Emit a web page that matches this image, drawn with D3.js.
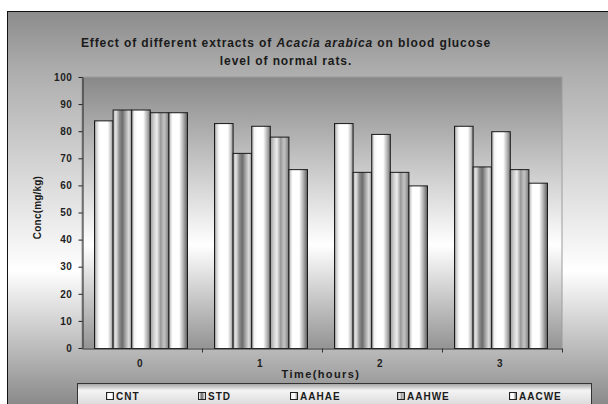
<!DOCTYPE html>
<html>
<head>
<meta charset="utf-8">
<script src="https://cdn.jsdelivr.net/npm/d3@7"></script>
<style>
  html, body { margin: 0; padding: 0; background: #fff; }
  svg { display: block; font-family: "Liberation Sans", Arial, sans-serif; }
</style>
</head>
<body>
<svg id="chart"></svg>
<script>
// data
const times = ["0", "1", "2", "3"];
const series = ["CNT", "STD", "AAHAE", "AAHWE", "AACWE"];
const CNT   = [84, 83, 83, 82];
const STD   = [88, 72, 65, 67];
const AAHAE = [88, 82, 79, 80];
const AAHWE = [87, 78, 65, 66];
const AACWE = [87, 66, 60, 61];
const yTicks = [0, 10, 20, 30, 40, 50, 60, 70, 80, 90, 100];

const values = { CNT, STD, AAHAE, AAHWE, AACWE };

const width = 608, height = 404;
const plot = { left: 82, right: 562, top: 77, bottom: 348 };

const svg = d3.select("#chart")
    .attr("width", width)
    .attr("height", height);

const defs = svg.append("defs");

// vertical background gradients
function vGrad(id, y1, y2, stops) {
  const g = defs.append("linearGradient")
      .attr("id", id)
      .attr("gradientUnits", "userSpaceOnUse")
      .attr("x1", 0).attr("x2", 0).attr("y1", y1).attr("y2", y2);
  stops.forEach(s => g.append("stop").attr("offset", s[0]).attr("stop-color", s[1]));
}
vGrad("bgOuter", 12, 404, [[0, "#8c8c8c"], [0.15, "#adadad"], [0.66, "#ffffff"], [1, "#8a8a8a"]]);
vGrad("bgPlot", plot.top, plot.bottom, [[0, "#888888"], [0.62, "#ffffff"], [1, "#949494"]]);
vGrad("bgLegend", 383, 404, [[0, "#9a9a9a"], [0.35, "#f4f4f4"], [1, "#dcdcdc"]]);

// horizontal bar "cylinder" fills
const barStops = {
  CNT:   [[0, "#8a8a8a"], [0.12, "#d8d8d8"], [0.28, "#ffffff"], [0.7, "#ffffff"], [0.86, "#cfcfcf"], [1, "#8c8c8c"]],
  STD:   [[0, "#b0b0b0"], [0.15, "#e4e4e4"], [0.35, "#8a8a8a"], [0.5, "#6e6e6e"], [0.68, "#a8a8a8"], [0.85, "#dedede"], [1, "#8a8a8a"]],
  AAHAE: [[0, "#a0a0a0"], [0.15, "#f4f4f4"], [0.3, "#ffffff"], [0.62, "#ffffff"], [0.82, "#b8b8b8"], [1, "#7c7c7c"]],
  AAHWE: [[0, "#9c9c9c"], [0.18, "#cccccc"], [0.35, "#eeeeee"], [0.55, "#9a9a9a"], [0.75, "#c4c4c4"], [1, "#7a7a7a"]],
  AACWE: [[0, "#b4b4b4"], [0.2, "#ffffff"], [0.55, "#ffffff"], [0.8, "#a8a8a8"], [1, "#5a5a5a"]]
};
series.forEach(s => {
  const g = defs.append("linearGradient").attr("id", "bar" + s)
      .attr("x1", 0).attr("x2", 1).attr("y1", 0).attr("y2", 0);
  barStops[s].forEach(st => g.append("stop").attr("offset", st[0]).attr("stop-color", st[1]));
});

// chart area background + border
svg.append("rect")
    .attr("x", 7.5).attr("y", 11.5)
    .attr("width", 640).attr("height", 420)
    .attr("fill", "url(#bgOuter)")
    .attr("stroke", "#111").attr("stroke-width", 1);

// plot area
svg.append("rect")
    .attr("x", plot.left).attr("y", plot.top)
    .attr("width", plot.right - plot.left).attr("height", plot.bottom - plot.top)
    .attr("fill", "url(#bgPlot)")
    .attr("stroke", "#9c9c9c").attr("stroke-width", 1);

// scales
const x0 = d3.scaleBand().domain(times).range([plot.left, plot.right]);
const x1 = d3.scaleBand().domain(series).range([12, 105]);
const y = d3.scaleLinear().domain([0, 100]).range([plot.bottom, plot.top]);

// bars
const groups = svg.append("g")
  .selectAll("g")
  .data(times)
  .join("g")
    .attr("transform", d => `translate(${x0(d)},0)`);

groups.selectAll("rect")
  .data((t, i) => series.map(s => ({ s, v: values[s][i] })))
  .join("rect")
    .attr("x", d => x1(d.s) + 0.5)
    .attr("y", d => y(d.v) + 0.5)
    .attr("width", x1.bandwidth())
    .attr("height", d => y(0) - y(d.v))
    .attr("fill", d => `url(#bar${d.s})`)
    .attr("stroke", "#1a1a1a")
    .attr("stroke-width", 1);

const labelFont = sel => sel
    .attr("font-size", 10).attr("font-weight", "bold").attr("fill", "#1e1e1e")
    .attr("font-family", "Liberation Sans, Arial, sans-serif")
    .attr("letter-spacing", 0.6);

// y axis
const yAxis = svg.append("g")
    .attr("transform", `translate(${plot.left + 0.5},0)`)
    .call(d3.axisLeft(y).tickValues(yTicks).tickSize(4).tickSizeOuter(0).tickPadding(6));
yAxis.select(".domain").attr("stroke", "#222");
yAxis.selectAll(".tick line").attr("stroke", "#222");
yAxis.selectAll("text").call(labelFont);

// x axis: labels centered, ticks at category boundaries
const xAxis = svg.append("g")
    .attr("transform", `translate(0,${plot.bottom + 0.5})`)
    .call(d3.axisBottom(x0).tickSize(0).tickPadding(11));
xAxis.select(".domain").attr("stroke", "#333");
xAxis.selectAll("text").call(labelFont);
xAxis.selectAll("text").attr("dx", -2);
xAxis.selectAll(".sep")
  .data(times)
  .join("line")
    .attr("class", "sep")
    .attr("x1", d => x0(d) + x0.bandwidth() + 0.5)
    .attr("x2", d => x0(d) + x0.bandwidth() + 0.5)
    .attr("y1", 0).attr("y2", 4)
    .attr("stroke", "#333");

// title
const title = svg.append("text")
    .attr("text-anchor", "middle")
    .attr("font-size", 12).attr("font-weight", "bold").attr("fill", "#1a1a1a")
    .attr("letter-spacing", 0.9);
const l1 = title.append("tspan").attr("x", 286).attr("y", 46.5);
l1.append("tspan").text("Effect of different extracts of ");
l1.append("tspan").attr("font-style", "italic").text("Acacia arabica");
l1.append("tspan").text(" on blood glucose");
title.append("tspan").attr("x", 286).attr("y", 65).text("level of normal rats.");

// axis titles
svg.append("text")
    .attr("x", 321).attr("y", 378)
    .attr("text-anchor", "middle")
    .attr("font-size", 11).attr("font-weight", "bold").attr("fill", "#1a1a1a")
    .attr("letter-spacing", 1.4)
    .text("Time(hours)");

svg.append("text")
    .attr("transform", `translate(41,${(plot.top + plot.bottom) / 2 - 5}) rotate(-90)`)
    .attr("text-anchor", "middle")
    .attr("font-size", 10).attr("font-weight", "bold").attr("fill", "#1a1a1a")
    .attr("letter-spacing", 0.2)
    .text("Conc(mg/kg)");

// legend
svg.append("rect")
    .attr("x", 77.5).attr("y", 383.5)
    .attr("width", 514).attr("height", 40)
    .attr("fill", "url(#bgLegend)")
    .attr("stroke", "#333");

const legendX = [106, 198, 290, 397, 509];
const legend = svg.append("g")
  .selectAll("g")
  .data(series)
  .join("g")
    .attr("transform", (d, i) => `translate(${legendX[i]},392)`);
legend.append("rect")
    .attr("x", 0.5).attr("y", 0.5)
    .attr("width", 7).attr("height", 7)
    .attr("fill", d => `url(#bar${d})`)
    .attr("stroke", "#222");
legend.append("text")
    .attr("x", 10).attr("y", 7.5)
    .attr("font-size", 10).attr("font-weight", "bold").attr("fill", "#1a1a1a")
    .attr("letter-spacing", 1.0)
    .text(d => d);
</script>
</body>
</html>
